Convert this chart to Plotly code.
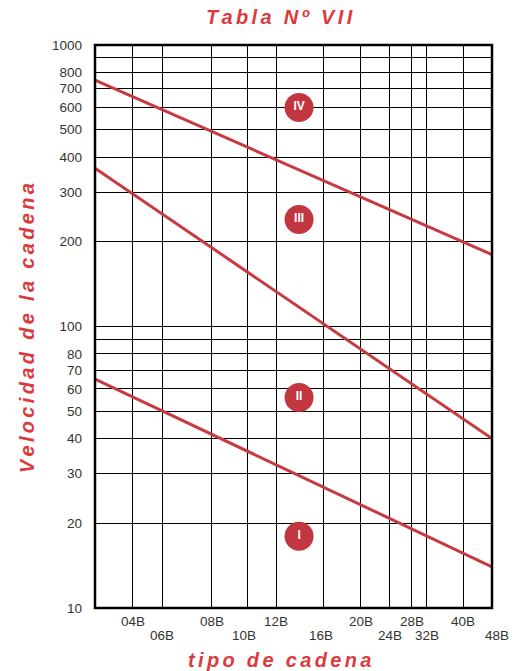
import plotly.graph_objects as go

# Chain types along the horizontal axis and where each sits on the 0-100 axis
chain_types = ["04B", "06B", "08B", "10B", "12B", "16B", "20B", "24B", "28B", "32B", "40B", "48B"]
chain_pos = [9.5, 16.9, 29.4, 38.3, 45.7, 57.6, 66.9, 74.2, 79.8, 83.6, 92.7, 100.0]

# Boundary lines (chain speed at the left and right edges of the chart)
line_x = [0, 100]
line_iv = [750, 180]
line_iii = [365, 40]
line_ii = [65, 14]

# Region labels
region_names = ["IV", "III", "II", "I"]
region_x = [51.4, 51.4, 51.4, 51.4]
region_y = [600, 240, 56, 18]

# Speed axis ticks
speed_ticks = [10, 20, 30, 40, 50, 60, 70, 80, 90, 100,
               200, 300, 400, 500, 600, 700, 800, 900, 1000]
speed_labels = ["10", "20", "30", "40", "50", "60", "70", "80", "", "100",
                "200", "300", "400", "500", "600", "700", "800", "", "1000"]

RED_TEXT = "#dc3a3c"
RED_LINE = "#c83a42"
RED_DOT = "#c1363f"
FONT = "Liberation Sans, Arial, sans-serif"


def spaced(s, sep="\u2006"):
    return sep.join(s)


fig = go.Figure()

for vals in (line_iv, line_iii, line_ii):
    fig.add_trace(go.Scatter(x=line_x, y=vals, mode="lines",
                             line=dict(color=RED_LINE, width=3),
                             hoverinfo="skip", showlegend=False))

fig.add_trace(go.Scatter(
    x=region_x, y=region_y, mode="markers+text",
    marker=dict(size=29, color=RED_DOT),
    text=[f"<b>{n}</b>" for n in region_names],
    textposition="middle center",
    textfont=dict(family=FONT, size=12, color="white"),
    showlegend=False, hoverinfo="skip"))

# Chain type labels in two staggered rows
for i, (name, xp) in enumerate(zip(chain_types, chain_pos)):
    row2 = i % 2 == 1
    fig.add_annotation(x=xp, y=-0.048 if row2 else -0.024, xref="x", yref="paper",
                       text=name, showarrow=False, yanchor="middle",
                       xshift=5 if name == "48B" else (-3 if row2 and name in ("10B", "16B") else 0),
                       font=dict(family=FONT, size=13.5, color="#333333"))

fig.add_annotation(x=0.465, y=1.0497, xref="paper", yref="paper",
                   text="<b><i>" + spaced("Tabla Nº VII") + "</i></b>", showarrow=False,
                   yanchor="middle", font=dict(family=FONT, size=20, color=RED_TEXT))
fig.add_annotation(x=0.465, y=-0.092, xref="paper", yref="paper",
                   text="<b><i>" + spaced("tipo de cadena") + "</i></b>", showarrow=False,
                   yanchor="middle", font=dict(family=FONT, size=20, color=RED_TEXT))
fig.add_annotation(x=0, y=0.497, xref="paper", yref="paper", xshift=-68,
                   text="<b><i>" + spaced("Velocidad de la cadena") + "</i></b>",
                   showarrow=False, textangle=-90, xanchor="center", yanchor="middle",
                   font=dict(family=FONT, size=20, color=RED_TEXT))

# Plot frame
fig.add_shape(type="rect", xref="paper", yref="paper", x0=0, x1=1, y0=0, y1=1,
              line=dict(color="black", width=2.5), layer="above")

fig.update_layout(
    width=523, height=671,
    margin=dict(l=95, r=31, t=45, b=63),
    paper_bgcolor="white", plot_bgcolor="white",
    xaxis=dict(range=[0, 100], tickvals=chain_pos[:-1], showticklabels=False,
               showgrid=True, gridcolor="black", gridwidth=1, zeroline=False,
               ticks="", fixedrange=True),
    yaxis=dict(type="log", range=[1, 3], tickvals=speed_ticks, ticktext=speed_labels,
               showgrid=True, gridcolor="black", gridwidth=1, zeroline=False,
               ticks="", ticklabelstandoff=12,
               tickfont=dict(family=FONT, size=13.5, color="#333333")),
)

fig.write_html("out.html")
